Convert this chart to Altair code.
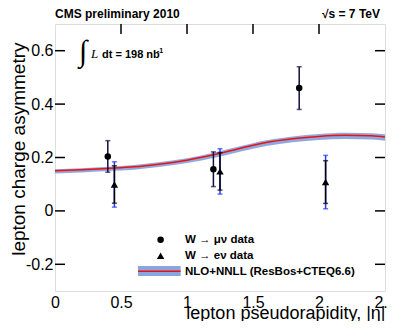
import altair as alt
import pandas as pd

# ---- data ----
curve_eta = [0.0, 0.2, 0.4, 0.6, 0.8, 1.0, 1.2, 1.4, 1.6, 1.8, 2.0, 2.2, 2.4, 2.5]
curve_asym = [0.150, 0.154, 0.159, 0.165, 0.176, 0.190, 0.210, 0.234, 0.256, 0.270, 0.279, 0.283, 0.281, 0.277]
curve_err = [0.008, 0.008, 0.008, 0.009, 0.009, 0.009, 0.010, 0.010, 0.011, 0.011, 0.011, 0.012, 0.012, 0.012]

mu_eta = [0.40, 1.20, 1.85]
mu_asym = [0.204, 0.156, 0.460]
mu_err = [0.059, 0.065, 0.080]

e_eta = [0.45, 1.25, 2.05]
e_asym = [0.099, 0.148, 0.108]
e_stat = [0.070, 0.070, 0.080]
e_tot = [0.085, 0.085, 0.100]

x_ticks = [0, 0.5, 1, 1.5, 2, 2.5]
y_ticks = [-0.2, 0, 0.2, 0.4, 0.6]
top_ticks = [0.5, 1, 1.5, 2]

legend_labels = ["W \u2192 \u03bc\u03bd data", "W \u2192 e\u03bd data", "NLO+NNLL (ResBos+CTEQ6.6)"]
legend_label_y = [-0.121, -0.180, -0.240]
legend_x = 0.985
legend_sym_x = 0.80
legend_sym_y = [-0.108, -0.168]
legend_band = [0.629, 0.952, -0.206, -0.244, -0.226]

FONT = "Liberation Sans"
BAND = "#82a0da"
RED = "#ee1111"
BLUE = "#2b3cff"
NAVY = "#101040"

curve = pd.DataFrame({"eta": curve_eta, "asym": curve_asym, "err": curve_err})
curve["lo"] = curve["asym"] - curve["err"] - 0.002
curve["hi"] = curve["asym"] + curve["err"] - 0.002
mu = pd.DataFrame({"eta": mu_eta, "asym": mu_asym})
mu["lo"] = mu["asym"] - pd.Series(mu_err)
mu["hi"] = mu["asym"] + pd.Series(mu_err)
el = pd.DataFrame({"eta": e_eta, "asym": e_asym})
el["slo"] = el["asym"] - pd.Series(e_stat)
el["shi"] = el["asym"] + pd.Series(e_stat)
el["tlo"] = el["asym"] - pd.Series(e_tot)
el["thi"] = el["asym"] + pd.Series(e_tot)

xscale = alt.Scale(domain=[0, 2.5], nice=False, zero=False)
yscale = alt.Scale(domain=[-0.3, 0.7], nice=False, zero=False)
xaxis = alt.Axis(values=x_ticks, labelExpr="format(datum.value, '~g')", ticks=False, domain=False,
                 grid=False, labelFontSize=16, labelPadding=3, labelColor="black", labelFont=FONT,
                 title="lepton pseudorapidity, |\u03b7|", titleFont=FONT, titleFontSize=18,
                 titleFontWeight="normal", titleColor="black", titleX=330, titleY=27,
                 titleAlign="right", titleBaseline="alphabetic", labelFlush=False)
yaxis = alt.Axis(values=y_ticks, labelExpr="(datum.value < 0 ? '-' : '') + format(abs(datum.value), '~g')",
                 ticks=False, domain=False, grid=False, labelFontSize=16, labelPadding=2,
                 labelColor="black", labelFont=FONT, title="lepton charge asymmetry", titleFont=FONT,
                 titleFontSize=19, titleFontWeight="normal", titleColor="black", titleX=-31, titleY=18,
                 titleAlign="right", titleBaseline="alphabetic", titleAngle=-90)
X = alt.X("eta:Q", scale=xscale, axis=xaxis)
Y = alt.Y("asym:Q", scale=yscale, axis=yaxis)

base_c = alt.Chart(curve)
band = base_c.mark_area(color=BAND, opacity=0.9, interpolate="monotone").encode(
    x=X, y=alt.Y("lo:Q", scale=yscale, axis=yaxis), y2="hi:Q")
line = base_c.mark_line(color=RED, strokeWidth=1.5, interpolate="monotone").encode(x=X, y=Y)

be = alt.Chart(el)
e_tot_rule = be.mark_rule(color=BLUE, strokeWidth=1.5).encode(x=X, y=alt.Y("tlo:Q", scale=yscale), y2="thi:Q")
e_tot_cap1 = be.mark_tick(color=BLUE, orient="horizontal", size=5, thickness=1.5).encode(x=X, y=alt.Y("tlo:Q", scale=yscale))
e_tot_cap2 = be.mark_tick(color=BLUE, orient="horizontal", size=5, thickness=1.5).encode(x=X, y=alt.Y("thi:Q", scale=yscale))
e_st_rule = be.mark_rule(color="black", strokeWidth=1.5).encode(x=X, y=alt.Y("slo:Q", scale=yscale), y2="shi:Q")
e_st_cap1 = be.mark_tick(color="black", orient="horizontal", size=5, thickness=1.5).encode(x=X, y=alt.Y("slo:Q", scale=yscale))
e_st_cap2 = be.mark_tick(color="black", orient="horizontal", size=5, thickness=1.5).encode(x=X, y=alt.Y("shi:Q", scale=yscale))
e_pts = be.mark_point(shape="triangle-up", filled=True, color="black", opacity=1, size=55).encode(x=X, y=Y)

bm = alt.Chart(mu)
mu_rule = bm.mark_rule(color=NAVY, strokeWidth=1.5).encode(x=X, y=alt.Y("lo:Q", scale=yscale), y2="hi:Q")
mu_cap1 = bm.mark_tick(color=NAVY, orient="horizontal", size=5, thickness=1.5).encode(x=X, y=alt.Y("lo:Q", scale=yscale))
mu_cap2 = bm.mark_tick(color=NAVY, orient="horizontal", size=5, thickness=1.5).encode(x=X, y=alt.Y("hi:Q", scale=yscale))
mu_pts = bm.mark_point(shape="circle", filled=True, color="black", opacity=1, size=42).encode(x=X, y=Y)

# frame ticks (inward)
lt = pd.DataFrame({"asym": y_ticks})
tt = pd.DataFrame({"eta": top_ticks})
left_ticks = alt.Chart(lt).mark_rule(color="black", strokeWidth=1.5).encode(y=Y, x=alt.value(0), x2=alt.value(10))
right_ticks = alt.Chart(lt).mark_rule(color="black", strokeWidth=1.5).encode(y=Y, x=alt.value(320), x2=alt.value(330))
top_tk = alt.Chart(tt).mark_rule(color="black", strokeWidth=1.5).encode(x=X, y=alt.value(0), y2=alt.value(10))

# legend
leg_txt = pd.DataFrame({"eta": [legend_x] * 3, "asym": legend_label_y, "t": legend_labels})
leg_text = alt.Chart(leg_txt).mark_text(align="left", baseline="alphabetic", font=FONT, fontSize=11.5,
                                        fontWeight="bold", color="black").encode(x=X, y=Y, text="t:N")
leg_c = alt.Chart(pd.DataFrame({"eta": [legend_sym_x], "asym": [legend_sym_y[0]]})).mark_point(
    shape="circle", filled=True, color="black", opacity=1, size=42).encode(x=X, y=Y)
leg_t = alt.Chart(pd.DataFrame({"eta": [legend_sym_x], "asym": [legend_sym_y[1]]})).mark_point(
    shape="triangle-up", filled=True, color="black", opacity=1, size=55).encode(x=X, y=Y)
lb = pd.DataFrame({"eta": [legend_band[0]], "eta2": [legend_band[1]], "asym": [legend_band[2]],
                   "asym2": [legend_band[3]], "mid": [legend_band[4]]})
leg_band = alt.Chart(lb).mark_rect(color=BAND, opacity=0.95).encode(x=X, x2="eta2:Q", y=Y, y2="asym2:Q")
leg_line = alt.Chart(lb).mark_rule(color=RED, strokeWidth=1.5).encode(x=X, x2="eta2:Q", y=alt.Y("mid:Q", scale=yscale))

# header & luminosity texts
hdr_l = alt.Chart(pd.DataFrame({"t": ["CMS preliminary 2010"]})).mark_text(
    align="left", baseline="alphabetic", font=FONT, fontSize=12, fontWeight="bold", color="black").encode(
    x=alt.value(0), y=alt.value(-6), text="t:N")
hdr_r = alt.Chart(pd.DataFrame({"t": ["\u221as = 7 TeV"]})).mark_text(
    align="right", baseline="alphabetic", font=FONT, fontSize=12, fontWeight="bold", color="black").encode(
    x=alt.value(325), y=alt.value(-6), text="t:N")
integ = alt.Chart(pd.DataFrame({"t": ["\u222b"]})).mark_text(
    align="center", baseline="middle", font="Liberation Serif", fontSize=30, color="black").encode(
    x=alt.value(28), y=alt.value(28), text="t:N")
lum_L = alt.Chart(pd.DataFrame({"t": ["L"]})).mark_text(
    align="left", baseline="alphabetic", font="Liberation Serif", fontSize=13, fontStyle="italic", color="black").encode(
    x=alt.value(36), y=alt.value(34), text="t:N")
lum_t = alt.Chart(pd.DataFrame({"t": ["dt = 198 nb"]})).mark_text(
    align="left", baseline="alphabetic", font=FONT, fontSize=11, fontWeight="bold", color="black").encode(
    x=alt.value(47), y=alt.value(34), text="t:N")
lum_s = alt.Chart(pd.DataFrame({"t": ["-1"]})).mark_text(
    align="left", baseline="alphabetic", font=FONT, fontSize=7, fontWeight="bold", color="black").encode(
    x=alt.value(102), y=alt.value(29), text="t:N")

chart = alt.layer(
    band, line,
    e_tot_rule, e_tot_cap1, e_tot_cap2, e_st_rule, e_st_cap1, e_st_cap2,
    mu_rule, mu_cap1, mu_cap2,
    mu_pts, e_pts,
    left_ticks, right_ticks, top_tk,
    leg_band, leg_line, leg_c, leg_t, leg_text,
    hdr_l, hdr_r, integ, lum_L, lum_t, lum_s,
).properties(
    width=330, height=267,
    autosize=alt.AutoSizeParams(type="none"),
    padding={"left": 47, "top": 16, "right": 3, "bottom": 30},
).configure_view(stroke="black", strokeWidth=2).configure(background="white")

chart.save("out.html", embed_options={"renderer": "svg", "actions": False})
